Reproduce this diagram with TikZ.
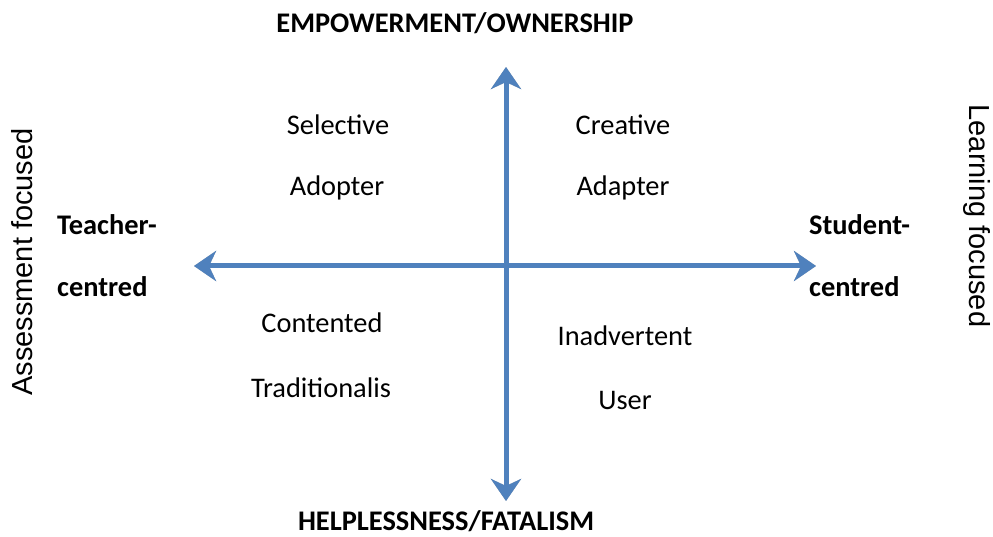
\documentclass[tikz,border=0pt]{standalone}
\usepackage{fontspec}
\setmainfont{Carlito}
\newfontfamily\arialfont{Liberation Sans}
\usetikzlibrary{arrows.meta}
\definecolor{axisblue}{HTML}{4F81BD}
\begin{document}
\begin{tikzpicture}[x=1pt,y=-1pt,
  lbl/.style={font=\fontsize{28.4}{33}\selectfont, anchor=base, inner sep=0pt},
  pole/.style={font=\fontsize{28.4}{33}\selectfont\bfseries, anchor=base, inner sep=0pt},
  side/.style={font=\fontsize{28.4}{33}\selectfont\bfseries, anchor=base west, inner sep=0pt},
  focus/.style={font=\arialfont\fontsize{29}{34}\selectfont, inner sep=0pt},
  axis/.style={line width=5pt, -{Stealth[length=22pt,width=30pt,inset=7pt]}},
]
\useasboundingbox[fill=white] (0,0) rectangle (993,537);

% axis end points
\coordinate (top) at (506,67);
\coordinate (bottom) at (506,501);
\coordinate (left) at (194,266);
\coordinate (right) at (816,266);
\coordinate (centre) at (506,266);

% soft shadow under the axes
\begin{scope}[shift={(2,2)}, black!50, opacity=0.55]
  \draw[axis] (centre) -- (top);
  \draw[axis] (centre) -- (bottom);
  \draw[axis] (centre) -- (left);
  \draw[axis] (centre) -- (right);
\end{scope}
% the two axes
\begin{scope}[axisblue]
  \draw[axis] (centre) -- (top);
  \draw[axis] (centre) -- (bottom);
  \draw[axis] (centre) -- (left);
  \draw[axis] (centre) -- (right);
\end{scope}

% pole labels
\node[pole] (emp) at (455,33) {EMPOWERMENT/OWNERSHIP};
\node[pole] (help) at (446,530) {HELPLESSNESS/FATALISM};
\node[side] (teach1) at (57,235) {Teacher-};
\node[side] (teach2) at (57,297) {centred};
\node[side] (stud1) at (809,235) {Student-};
\node[side] (stud2) at (809,297) {centred};

% quadrant labels
\node[lbl] (sel1) at (338,135) {Selective};
\node[lbl] (sel2) at (337,196) {Adopter};
\node[lbl] (cre1) at (623,135) {Creative};
\node[lbl] (cre2) at (623,196) {Adapter};
\node[lbl] (con1) at (322,332) {Contented};
\node[lbl] (con2) at (321,397) {Traditionalis};
\node[lbl] (ina1) at (625,345) {Inadvertent};
\node[lbl] (ina2) at (625,409) {User};

% rotated side captions
\node[focus, rotate=90] (assess) at (22,262) {Assessment focused};
\node[focus, rotate=-90] (learn) at (977,216) {Learning focused};
\end{tikzpicture}
\end{document}
